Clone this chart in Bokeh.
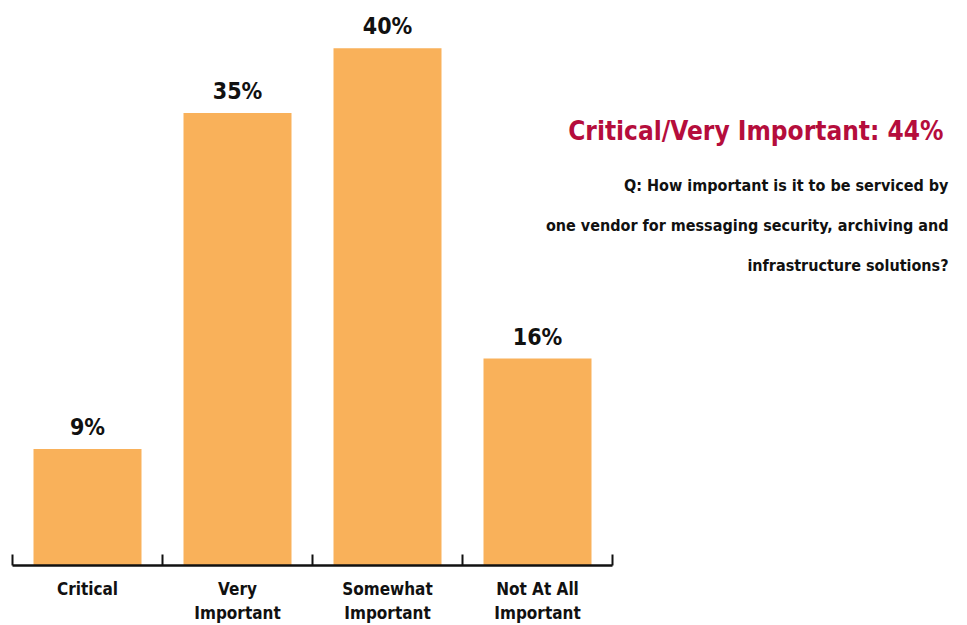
from bokeh.plotting import figure
from bokeh.models import Range1d, FixedTicker, ColumnDataSource, Label
from bokeh.core.properties import value
from bokeh.embed import file_html
from bokeh.resources import INLINE

categories = ["Critical", "Very\nImportant", "Somewhat\nImportant", "Not At All\nImportant"]
percents = [9, 35, 40, 16]
pct_labels = ["9%", "35%", "40%", "16%"]
title_text = "Critical/Very Important: 44%"
question_lines = [
    "Q: How important is it to be serviced by",
    "one vendor for messaging security, archiving and",
    "infrastructure solutions?",
]

FONT = "'DejaVu Sans Condensed', 'Roboto Condensed', 'Liberation Sans Narrow', 'Arial Narrow', sans-serif"
BAR = "#F9B15A"
RED = "#B50D3C"

xs = list(range(len(categories)))
src = ColumnDataSource(dict(x=xs, top=percents, lab=pct_labels))

W, H = 967, 625
bottom_border = 57
px_per_unit_x = 150.0
x0_px = 87.0
px_per_pct = 13.0

p = figure(width=W, height=H, output_backend="svg", toolbar_location=None,
           min_border_left=0, min_border_right=0, min_border_top=0,
           min_border_bottom=bottom_border, outline_line_color=None)
p.x_range = Range1d(-x0_px / px_per_unit_x, (W - x0_px) / px_per_unit_x)
p.y_range = Range1d(0, (H - bottom_border) / px_per_pct)
p.grid.visible = False
p.yaxis.visible = False
p.background_fill_color = "white"
p.border_fill_color = "white"

p.vbar(x="x", top="top", bottom=0, width=0.72, source=src, fill_color=BAR, line_color=None)
p.text(x="x", y="top", text="lab", source=src, text_align="center", text_baseline="bottom",
       y_offset=-9, text_font=value(FONT), text_font_style="bold", text_font_size="23px",
       text_color="#111111")

ax = p.xaxis[0]
ax.bounds = (-0.5, len(categories) - 0.5)
ax.ticker = FixedTicker(ticks=xs, minor_ticks=[i - 0.5 for i in range(len(categories) + 1)])
ax.major_label_overrides = {i: c for i, c in enumerate(categories)}
ax.major_tick_in = 0
ax.major_tick_out = 0
ax.minor_tick_in = 11
ax.minor_tick_out = 0
ax.minor_tick_line_color = "#111111"
ax.minor_tick_line_width = 2
ax.axis_line_color = "#111111"
ax.axis_line_width = 2.5
ax.major_label_standoff = 13
ax.major_label_text_font = FONT
ax.major_label_text_font_style = "bold"
ax.major_label_text_font_size = "17px"
ax.major_label_text_color = "#111111"
ax.major_label_text_line_height = 1.2

def dx(px):
    return (px - x0_px) / px_per_unit_x

def dy(py):
    return (H - bottom_border - py) / px_per_pct

p.add_layout(Label(x=dx(943), y=dy(131), text=title_text, text_align="right",
                   text_baseline="middle", text_font=FONT, text_font_style="bold",
                   text_font_size="26px", text_color=RED))
for i, line in enumerate(question_lines):
    p.add_layout(Label(x=dx(948), y=dy(186 + 40 * i), text=line, text_align="right",
                       text_baseline="middle", text_font=FONT, text_font_style="bold",
                       text_font_size="16px", text_color="#111111"))

open("out.html", "w").write(file_html(p, INLINE))
